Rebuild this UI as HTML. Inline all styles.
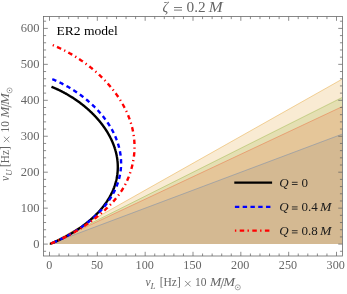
<!DOCTYPE html>
<html><head><meta charset="utf-8"><title>plot</title>
<style>html,body{margin:0;padding:0;background:#fff;}body{width:347px;height:294px;position:relative;overflow:hidden;font-family:"Liberation Serif",serif;}</style>
</head><body>
<svg width="347" height="294" viewBox="0 0 347 294" style="position:absolute;left:0;top:0;will-change:transform;opacity:0.999">
<rect width="347" height="294" fill="#fff"/>
<defs><clipPath id="c"><rect x="43.60" y="16.60" width="298.85" height="239.40"/></clipPath></defs>
<g clip-path="url(#c)">
<polygon points="49.50,244.10 342.25,134.09 342.25,244.10" fill="rgb(94,129,181)" fill-opacity="0.2"/>
<polygon points="49.50,244.10 342.25,79.09 342.25,244.10" fill="rgb(225,156,36)" fill-opacity="0.2"/>
<polygon points="49.50,244.10 342.25,97.42 342.25,244.10" fill="rgb(143,176,50)" fill-opacity="0.2"/>
<polygon points="49.50,244.10 342.25,106.59 342.25,244.10" fill="rgb(235,98,53)" fill-opacity="0.2"/>
<line x1="49.50" y1="244.10" x2="342.25" y2="134.09" stroke="rgb(94,129,181)" stroke-width="0.7" stroke-opacity="0.6"/>
<line x1="49.50" y1="244.10" x2="342.25" y2="79.09" stroke="rgb(225,156,36)" stroke-width="0.7" stroke-opacity="0.6"/>
<line x1="49.50" y1="244.10" x2="342.25" y2="97.42" stroke="rgb(143,176,50)" stroke-width="0.7" stroke-opacity="0.6"/>
<line x1="49.50" y1="244.10" x2="342.25" y2="106.59" stroke="rgb(235,98,53)" stroke-width="0.7" stroke-opacity="0.6"/>
<path d="M51.44 86.77 L51.83 86.93 L52.22 87.09 L52.62 87.25 L53.00 87.40 L53.40 87.57 L53.79 87.74 L54.20 87.91 L54.58 88.07 L54.97 88.24 L55.38 88.42 L55.76 88.59 L56.15 88.76 L56.55 88.94 L56.96 89.13 L57.33 89.30 L57.71 89.47 L58.09 89.65 L58.49 89.84 L58.89 90.03 L59.30 90.23 L59.72 90.43 L60.09 90.61 L60.46 90.79 L60.84 90.98 L61.23 91.17 L61.62 91.37 L62.01 91.57 L62.42 91.78 L62.83 91.99 L63.24 92.21 L63.66 92.43 L64.02 92.62 L64.37 92.82 L64.74 93.01 L65.10 93.21 L65.47 93.42 L65.85 93.62 L66.23 93.84 L66.61 94.05 L66.99 94.27 L67.38 94.49 L67.78 94.72 L68.17 94.95 L68.57 95.19 L68.97 95.42 L69.38 95.67 L69.79 95.91 L70.20 96.17 L70.62 96.42 L71.04 96.68 L71.46 96.94 L71.80 97.16 L72.15 97.38 L72.49 97.60 L72.84 97.82 L73.19 98.04 L73.54 98.27 L73.89 98.50 L74.24 98.74 L74.60 98.97 L74.95 99.21 L75.31 99.45 L75.67 99.70 L76.04 99.95 L76.40 100.20 L76.76 100.45 L77.13 100.71 L77.50 100.97 L77.87 101.23 L78.24 101.50 L78.61 101.77 L78.98 102.04 L79.36 102.32 L79.73 102.59 L80.11 102.88 L80.49 103.16 L80.87 103.45 L81.25 103.74 L81.63 104.03 L82.01 104.33 L82.39 104.63 L82.78 104.93 L83.16 105.24 L83.55 105.55 L83.93 105.86 L84.32 106.17 L84.71 106.49 L85.09 106.81 L85.48 107.14 L85.87 107.47 L86.26 107.80 L86.65 108.13 L87.03 108.47 L87.42 108.81 L87.81 109.15 L88.20 109.50 L88.59 109.85 L88.98 110.20 L89.37 110.56 L89.76 110.92 L90.15 111.28 L90.44 111.55 L90.73 111.83 L91.02 112.11 L91.31 112.39 L91.61 112.67 L91.90 112.95 L92.19 113.24 L92.48 113.52 L92.76 113.81 L93.05 114.10 L93.34 114.39 L93.63 114.68 L93.92 114.98 L94.20 115.27 L94.49 115.57 L94.78 115.87 L95.06 116.17 L95.35 116.48 L95.63 116.78 L95.92 117.09 L96.20 117.40 L96.48 117.71 L96.76 118.02 L97.04 118.33 L97.32 118.65 L97.60 118.96 L97.88 119.28 L98.16 119.60 L98.43 119.92 L98.71 120.25 L98.98 120.57 L99.26 120.90 L99.53 121.23 L99.80 121.56 L100.07 121.89 L100.34 122.22 L100.61 122.55 L100.87 122.89 L101.14 123.23 L101.40 123.56 L101.67 123.90 L101.93 124.25 L102.19 124.59 L102.45 124.93 L102.71 125.28 L102.96 125.63 L103.22 125.98 L103.47 126.33 L103.73 126.68 L103.98 127.03 L104.23 127.39 L104.47 127.74 L104.72 128.10 L104.96 128.46 L105.21 128.82 L105.45 129.18 L105.69 129.54 L105.93 129.91 L106.16 130.27 L106.40 130.64 L106.63 131.00 L106.86 131.37 L107.09 131.74 L107.31 132.11 L107.54 132.49 L107.76 132.86 L107.98 133.24 L108.20 133.61 L108.42 133.99 L108.64 134.37 L108.85 134.75 L109.06 135.13 L109.27 135.51 L109.48 135.89 L109.68 136.27 L109.89 136.66 L110.09 137.04 L110.29 137.43 L110.48 137.82 L110.68 138.20 L110.87 138.59 L111.06 138.98 L111.24 139.37 L111.43 139.77 L111.61 140.16 L111.79 140.55 L111.97 140.95 L112.15 141.34 L112.32 141.74 L112.49 142.13 L112.66 142.53 L112.82 142.93 L112.99 143.33 L113.15 143.72 L113.31 144.12 L113.46 144.52 L113.61 144.93 L113.76 145.33 L113.91 145.73 L114.06 146.13 L114.20 146.54 L114.34 146.94 L114.48 147.34 L114.61 147.75 L114.75 148.15 L114.87 148.56 L115.00 148.96 L115.13 149.37 L115.25 149.78 L115.37 150.18 L115.48 150.59 L115.60 151.00 L115.71 151.41 L115.81 151.81 L115.92 152.22 L116.02 152.63 L116.12 153.04 L116.22 153.45 L116.31 153.86 L116.40 154.27 L116.49 154.68 L116.57 155.08 L116.66 155.49 L116.74 155.90 L116.81 156.31 L116.89 156.72 L116.96 157.13 L117.03 157.54 L117.09 157.95 L117.15 158.36 L117.21 158.77 L117.27 159.18 L117.32 159.59 L117.38 159.99 L117.42 160.40 L117.47 160.81 L117.51 161.22 L117.55 161.63 L117.59 162.03 L117.62 162.44 L117.65 162.85 L117.68 163.26 L117.71 163.66 L117.73 164.07 L117.75 164.47 L117.77 164.88 L117.78 165.28 L117.79 165.69 L117.80 166.09 L117.81 166.49 L117.81 166.90 L117.81 167.30 L117.81 167.70 L117.80 168.10 L117.79 168.50 L117.78 168.90 L117.76 169.44 L117.74 169.97 L117.71 170.50 L117.67 171.03 L117.64 171.55 L117.59 172.08 L117.54 172.60 L117.49 173.13 L117.43 173.65 L117.37 174.17 L117.31 174.69 L117.23 175.21 L117.16 175.73 L117.08 176.24 L116.99 176.75 L116.90 177.26 L116.81 177.77 L116.71 178.28 L116.61 178.79 L116.50 179.29 L116.39 179.80 L116.27 180.30 L116.16 180.80 L116.03 181.29 L115.90 181.79 L115.77 182.28 L115.64 182.77 L115.50 183.26 L115.35 183.75 L115.21 184.23 L115.05 184.71 L114.90 185.20 L114.74 185.67 L114.58 186.15 L114.41 186.62 L114.24 187.10 L114.07 187.57 L113.89 188.03 L113.71 188.50 L113.53 188.96 L113.35 189.42 L113.16 189.88 L112.96 190.33 L112.77 190.79 L112.57 191.24 L112.37 191.69 L112.16 192.13 L111.95 192.57 L111.74 193.02 L111.53 193.45 L111.31 193.89 L111.09 194.32 L110.87 194.75 L110.65 195.18 L110.42 195.61 L110.19 196.03 L109.96 196.45 L109.73 196.87 L109.49 197.28 L109.26 197.70 L109.02 198.11 L108.77 198.52 L108.53 198.92 L108.28 199.32 L108.03 199.72 L107.78 200.12 L107.53 200.51 L107.28 200.91 L107.02 201.29 L106.76 201.68 L106.51 202.07 L106.25 202.45 L105.98 202.83 L105.72 203.20 L105.46 203.57 L105.19 203.94 L104.92 204.31 L104.65 204.68 L104.38 205.04 L104.11 205.40 L103.84 205.76 L103.57 206.11 L103.29 206.46 L103.02 206.81 L102.74 207.16 L102.46 207.50 L102.19 207.85 L101.91 208.18 L101.63 208.52 L101.35 208.85 L101.07 209.18 L100.79 209.51 L100.51 209.84 L100.22 210.16 L99.94 210.48 L99.66 210.80 L99.38 211.12 L99.09 211.43 L98.81 211.74 L98.53 212.05 L98.24 212.35 L97.96 212.66 L97.67 212.96 L97.39 213.25 L97.10 213.55 L96.82 213.84 L96.53 214.13 L96.25 214.42 L95.97 214.70 L95.68 214.99 L95.33 215.34 L94.97 215.68 L94.62 216.03 L94.26 216.36 L93.91 216.70 L93.56 217.03 L93.21 217.36 L92.86 217.68 L92.51 218.00 L92.16 218.32 L91.81 218.63 L91.46 218.94 L91.11 219.25 L90.77 219.55 L90.42 219.85 L90.08 220.15 L89.74 220.44 L89.40 220.73 L89.06 221.02 L88.72 221.30 L88.38 221.58 L88.04 221.86 L87.71 222.13 L87.38 222.40 L87.05 222.66 L86.72 222.93 L86.39 223.19 L86.06 223.45 L85.74 223.70 L85.41 223.95 L85.09 224.20 L84.77 224.44 L84.39 224.73 L84.01 225.02 L83.63 225.30 L83.26 225.58 L82.89 225.85 L82.52 226.12 L82.15 226.39 L81.79 226.65 L81.43 226.91 L81.07 227.16 L80.71 227.41 L80.36 227.66 L80.01 227.90 L79.67 228.14 L79.32 228.38 L78.98 228.61 L78.64 228.84 L78.31 229.06 L77.92 229.32 L77.54 229.58 L77.16 229.83 L76.79 230.07 L76.42 230.31 L76.05 230.55 L75.69 230.78 L75.33 231.01 L74.97 231.23 L74.62 231.45 L74.27 231.67 L73.93 231.88 L73.55 232.12 L73.16 232.35 L72.79 232.58 L72.42 232.81 L72.05 233.03 L71.69 233.24 L71.34 233.45 L70.98 233.66 L70.64 233.86 L70.26 234.08 L69.88 234.30 L69.51 234.51 L69.15 234.72 L68.79 234.92 L68.44 235.12 L68.05 235.34 L67.68 235.55 L67.31 235.75 L66.95 235.95 L66.59 236.14 L66.21 236.35 L65.83 236.55 L65.47 236.75 L65.11 236.94 L64.73 237.14 L64.35 237.33 L63.99 237.52 L63.61 237.72 L63.23 237.91 L62.87 238.10 L62.49 238.29 L62.12 238.48 L61.76 238.66 L61.39 238.84 L61.02 239.02 L60.65 239.21 L60.29 239.38 L59.92 239.56 L59.54 239.74 L59.18 239.92 L58.81 240.09 L58.44 240.27 L58.06 240.44 L57.69 240.62 L57.32 240.79 L56.95 240.96 L56.58 241.12 L56.21 241.29 L55.83 241.46 L55.47 241.62 L55.09 241.79 L54.72 241.95 L54.35 242.12 L53.98 242.27 L53.61 242.43 L53.24 242.59 L52.87 242.75 L52.50 242.90 L52.12 243.06 L51.75 243.21 L51.38 243.36 L51.01 243.51 L50.64 243.66 L50.27 243.80 L50.09 243.87" fill="none" stroke="#000" stroke-width="2.4"/>
<path d="M52.30 79.18 L52.68 79.33 L53.07 79.49 L53.46 79.65 L53.86 79.82 L54.24 79.98 L54.64 80.15 L55.05 80.33 L55.42 80.49 L55.82 80.66 L56.22 80.84 L56.63 81.03 L57.01 81.19 L57.39 81.37 L57.78 81.55 L58.18 81.73 L58.59 81.93 L59.01 82.12 L59.37 82.30 L59.75 82.48 L60.13 82.66 L60.51 82.85 L60.91 83.04 L61.30 83.24 L61.71 83.44 L62.12 83.65 L62.54 83.87 L62.97 84.08 L63.32 84.27 L63.69 84.46 L64.05 84.65 L64.43 84.85 L64.80 85.05 L65.18 85.26 L65.57 85.47 L65.95 85.68 L66.35 85.89 L66.74 86.12 L67.14 86.34 L67.55 86.57 L67.96 86.80 L68.37 87.04 L68.78 87.28 L69.20 87.53 L69.63 87.78 L70.05 88.03 L70.40 88.24 L70.75 88.45 L71.09 88.66 L71.45 88.87 L71.80 89.09 L72.15 89.31 L72.51 89.53 L72.87 89.76 L73.23 89.99 L73.60 90.22 L73.96 90.46 L74.33 90.70 L74.70 90.94 L75.07 91.18 L75.45 91.43 L75.82 91.68 L76.20 91.93 L76.58 92.19 L76.96 92.45 L77.34 92.71 L77.73 92.98 L78.11 93.25 L78.50 93.52 L78.89 93.80 L79.28 94.08 L79.67 94.36 L80.06 94.64 L80.46 94.93 L80.86 95.22 L81.25 95.52 L81.65 95.82 L82.05 96.12 L82.45 96.42 L82.85 96.73 L83.25 97.04 L83.66 97.36 L84.06 97.67 L84.47 98.00 L84.87 98.32 L85.28 98.65 L85.69 98.98 L86.10 99.31 L86.51 99.65 L86.92 99.99 L87.22 100.25 L87.53 100.51 L87.84 100.77 L88.15 101.04 L88.45 101.30 L88.76 101.57 L89.07 101.84 L89.38 102.11 L89.69 102.39 L90.00 102.66 L90.31 102.94 L90.61 103.22 L90.92 103.50 L91.23 103.78 L91.54 104.06 L91.85 104.35 L92.16 104.64 L92.46 104.93 L92.77 105.22 L93.08 105.52 L93.39 105.81 L93.69 106.11 L94.00 106.41 L94.31 106.71 L94.61 107.01 L94.92 107.32 L95.22 107.63 L95.53 107.94 L95.83 108.25 L96.14 108.56 L96.44 108.87 L96.74 109.19 L97.04 109.51 L97.34 109.83 L97.65 110.15 L97.95 110.47 L98.24 110.80 L98.54 111.13 L98.84 111.45 L99.14 111.78 L99.43 112.12 L99.73 112.45 L100.02 112.79 L100.32 113.12 L100.61 113.46 L100.90 113.81 L101.19 114.15 L101.48 114.49 L101.77 114.84 L102.06 115.19 L102.34 115.54 L102.63 115.89 L102.91 116.24 L103.19 116.59 L103.48 116.95 L103.76 117.31 L104.03 117.67 L104.31 118.03 L104.59 118.39 L104.86 118.76 L105.14 119.12 L105.41 119.49 L105.68 119.86 L105.95 120.23 L106.21 120.60 L106.48 120.97 L106.74 121.35 L107.01 121.72 L107.27 122.10 L107.53 122.48 L107.78 122.86 L108.04 123.24 L108.29 123.63 L108.54 124.01 L108.79 124.40 L109.04 124.79 L109.29 125.17 L109.53 125.56 L109.78 125.96 L110.02 126.35 L110.25 126.74 L110.49 127.14 L110.73 127.53 L110.96 127.93 L111.19 128.33 L111.42 128.73 L111.64 129.13 L111.87 129.53 L112.09 129.94 L112.31 130.34 L112.52 130.75 L112.74 131.16 L112.95 131.56 L113.16 131.97 L113.37 132.38 L113.58 132.79 L113.78 133.20 L113.98 133.62 L114.18 134.03 L114.37 134.45 L114.57 134.86 L114.76 135.28 L114.95 135.69 L115.13 136.11 L115.31 136.53 L115.50 136.95 L115.67 137.37 L115.85 137.79 L116.02 138.22 L116.19 138.64 L116.36 139.06 L116.52 139.49 L116.69 139.91 L116.84 140.34 L117.00 140.76 L117.15 141.19 L117.31 141.61 L117.45 142.04 L117.60 142.47 L117.74 142.90 L117.88 143.33 L118.02 143.76 L118.15 144.19 L118.28 144.62 L118.41 145.05 L118.54 145.48 L118.66 145.91 L118.78 146.34 L118.89 146.77 L119.01 147.21 L119.12 147.64 L119.23 148.07 L119.33 148.50 L119.43 148.94 L119.53 149.37 L119.63 149.80 L119.72 150.24 L119.81 150.67 L119.90 151.10 L119.98 151.54 L120.06 151.97 L120.14 152.40 L120.21 152.84 L120.28 153.27 L120.35 153.71 L120.42 154.14 L120.48 154.57 L120.54 155.00 L120.60 155.44 L120.65 155.87 L120.70 156.30 L120.75 156.74 L120.79 157.17 L120.83 157.60 L120.87 158.03 L120.90 158.46 L120.94 158.89 L120.96 159.32 L120.99 159.75 L121.01 160.18 L121.03 160.61 L121.05 161.04 L121.06 161.47 L121.07 161.90 L121.08 162.33 L121.09 162.75 L121.09 163.18 L121.09 163.61 L121.08 164.03 L121.08 164.46 L121.07 164.88 L121.05 165.30 L121.04 165.73 L121.02 166.15 L121.00 166.57 L120.97 166.99 L120.95 167.41 L120.91 167.83 L120.88 168.25 L120.85 168.67 L120.81 169.08 L120.76 169.50 L120.72 169.91 L120.67 170.33 L120.62 170.74 L120.57 171.15 L120.51 171.57 L120.45 171.98 L120.39 172.39 L120.33 172.80 L120.26 173.20 L120.19 173.61 L120.12 174.02 L120.05 174.42 L119.97 174.83 L119.89 175.23 L119.81 175.63 L119.72 176.03 L119.63 176.43 L119.54 176.83 L119.45 177.23 L119.36 177.62 L119.26 178.02 L119.16 178.41 L119.06 178.80 L118.95 179.19 L118.84 179.58 L118.74 179.97 L118.62 180.36 L118.51 180.75 L118.39 181.13 L118.27 181.52 L118.15 181.90 L118.03 182.28 L117.90 182.66 L117.73 183.17 L117.56 183.67 L117.38 184.17 L117.20 184.67 L117.01 185.16 L116.82 185.65 L116.63 186.14 L116.43 186.63 L116.23 187.12 L116.03 187.60 L115.82 188.08 L115.61 188.56 L115.40 189.03 L115.18 189.51 L114.96 189.97 L114.74 190.44 L114.52 190.91 L114.29 191.37 L114.06 191.83 L113.82 192.28 L113.59 192.74 L113.35 193.19 L113.11 193.64 L112.86 194.08 L112.61 194.52 L112.37 194.96 L112.11 195.40 L111.86 195.84 L111.60 196.27 L111.35 196.70 L111.09 197.12 L110.82 197.54 L110.56 197.96 L110.29 198.38 L110.02 198.80 L109.75 199.21 L109.48 199.62 L109.21 200.02 L108.93 200.43 L108.65 200.83 L108.38 201.23 L108.10 201.62 L107.81 202.01 L107.53 202.40 L107.25 202.79 L106.96 203.17 L106.68 203.55 L106.39 203.93 L106.10 204.30 L105.81 204.68 L105.52 205.05 L105.23 205.41 L104.93 205.78 L104.64 206.14 L104.35 206.49 L104.05 206.85 L103.76 207.20 L103.46 207.55 L103.16 207.90 L102.86 208.24 L102.57 208.58 L102.27 208.92 L101.97 209.26 L101.67 209.59 L101.37 209.92 L101.07 210.25 L100.77 210.57 L100.47 210.90 L100.17 211.22 L99.87 211.53 L99.57 211.85 L99.27 212.16 L98.97 212.47 L98.67 212.77 L98.37 213.08 L98.07 213.38 L97.77 213.68 L97.47 213.97 L97.17 214.26 L96.87 214.56 L96.57 214.84 L96.27 215.13 L95.97 215.41 L95.67 215.69 L95.38 215.97 L95.08 216.25 L94.78 216.52 L94.49 216.79 L94.12 217.12 L93.75 217.45 L93.38 217.78 L93.02 218.11 L92.65 218.43 L92.29 218.74 L91.93 219.05 L91.56 219.36 L91.20 219.67 L90.85 219.97 L90.49 220.27 L90.13 220.56 L89.78 220.85 L89.43 221.14 L89.07 221.42 L88.72 221.71 L88.38 221.98 L88.03 222.26 L87.69 222.53 L87.34 222.80 L87.00 223.06 L86.66 223.32 L86.33 223.58 L85.99 223.83 L85.66 224.09 L85.32 224.33 L84.99 224.58 L84.67 224.82 L84.34 225.06 L84.02 225.30 L83.63 225.58 L83.25 225.86 L82.87 226.13 L82.49 226.40 L82.11 226.66 L81.74 226.92 L81.38 227.18 L81.01 227.43 L80.65 227.68 L80.29 227.92 L79.93 228.16 L79.58 228.40 L79.23 228.63 L78.88 228.86 L78.54 229.09 L78.20 229.31 L77.86 229.53 L77.47 229.79 L77.09 230.03 L76.71 230.28 L76.33 230.52 L75.96 230.75 L75.59 230.98 L75.23 231.21 L74.87 231.43 L74.52 231.65 L74.16 231.86 L73.82 232.07 L73.43 232.31 L73.04 232.54 L72.66 232.77 L72.29 232.99 L71.92 233.21 L71.56 233.42 L71.20 233.63 L70.85 233.83 L70.50 234.03 L70.11 234.25 L69.73 234.46 L69.36 234.67 L69.00 234.88 L68.64 235.08 L68.28 235.27 L67.90 235.49 L67.52 235.69 L67.15 235.89 L66.79 236.09 L66.43 236.28 L66.05 236.48 L65.68 236.68 L65.31 236.88 L64.95 237.06 L64.57 237.26 L64.20 237.45 L63.84 237.64 L63.45 237.84 L63.08 238.02 L62.72 238.21 L62.34 238.40 L61.97 238.58 L61.59 238.77 L61.22 238.95 L60.84 239.14 L60.47 239.32 L60.09 239.50 L59.72 239.68 L59.35 239.85 L58.97 240.03 L58.61 240.20 L58.25 240.37 L57.88 240.54 L57.51 240.71 L57.15 240.88 L56.77 241.05 L56.40 241.22 L56.02 241.39 L55.66 241.55 L55.29 241.71 L54.91 241.88 L54.54 242.04 L54.18 242.20 L53.80 242.35 L53.43 242.51 L53.06 242.67 L52.69 242.83 L52.32 242.98 L51.95 243.13 L51.58 243.28 L51.20 243.43 L50.83 243.58 L50.46 243.73 L50.09 243.87" fill="none" stroke="#0000ff" stroke-width="2.4" stroke-dasharray="4.35 3.55"/>
<path d="M52.69 45.09 L53.10 45.26 L53.49 45.42 L53.90 45.59 L54.28 45.75 L54.67 45.91 L55.08 46.09 L55.46 46.25 L55.84 46.41 L56.24 46.58 L56.64 46.76 L57.06 46.95 L57.43 47.11 L57.81 47.28 L58.20 47.45 L58.59 47.63 L58.99 47.82 L59.41 48.01 L59.83 48.21 L60.26 48.41 L60.62 48.58 L60.99 48.76 L61.36 48.94 L61.75 49.12 L62.13 49.31 L62.53 49.50 L62.92 49.70 L63.33 49.90 L63.74 50.11 L64.15 50.32 L64.57 50.53 L65.00 50.75 L65.43 50.97 L65.87 51.20 L66.31 51.44 L66.67 51.63 L67.03 51.82 L67.40 52.02 L67.77 52.21 L68.14 52.42 L68.51 52.62 L68.89 52.83 L69.27 53.04 L69.66 53.26 L70.05 53.48 L70.44 53.70 L70.83 53.92 L71.23 54.15 L71.63 54.38 L72.04 54.62 L72.44 54.86 L72.85 55.10 L73.27 55.35 L73.68 55.59 L74.10 55.85 L74.52 56.10 L74.95 56.36 L75.38 56.63 L75.81 56.89 L76.24 57.17 L76.68 57.44 L77.11 57.72 L77.56 58.00 L78.00 58.29 L78.45 58.58 L78.78 58.80 L79.12 59.02 L79.46 59.24 L79.80 59.47 L80.14 59.70 L80.49 59.93 L80.83 60.16 L81.18 60.40 L81.52 60.63 L81.87 60.87 L82.22 61.12 L82.57 61.36 L82.92 61.61 L83.28 61.86 L83.63 62.11 L83.99 62.36 L84.34 62.61 L84.70 62.87 L85.06 63.13 L85.42 63.40 L85.78 63.66 L86.14 63.93 L86.50 64.20 L86.86 64.47 L87.23 64.74 L87.59 65.02 L87.96 65.30 L88.33 65.58 L88.69 65.86 L89.06 66.15 L89.43 66.44 L89.80 66.73 L90.17 67.02 L90.54 67.32 L90.91 67.62 L91.28 67.92 L91.66 68.22 L92.03 68.52 L92.40 68.83 L92.78 69.14 L93.15 69.45 L93.52 69.77 L93.90 70.09 L94.28 70.41 L94.65 70.73 L95.03 71.05 L95.40 71.38 L95.78 71.71 L96.16 72.04 L96.53 72.38 L96.91 72.71 L97.29 73.05 L97.66 73.39 L98.04 73.74 L98.42 74.08 L98.80 74.43 L99.17 74.78 L99.55 75.14 L99.93 75.49 L100.30 75.85 L100.68 76.21 L101.05 76.58 L101.43 76.94 L101.80 77.31 L102.18 77.68 L102.55 78.06 L102.93 78.43 L103.30 78.81 L103.67 79.19 L104.05 79.57 L104.42 79.96 L104.79 80.34 L105.16 80.73 L105.53 81.13 L105.90 81.52 L106.27 81.92 L106.64 82.32 L107.00 82.72 L107.37 83.12 L107.73 83.53 L108.10 83.94 L108.46 84.35 L108.82 84.76 L109.18 85.18 L109.54 85.59 L109.90 86.01 L110.26 86.44 L110.61 86.86 L110.97 87.29 L111.32 87.71 L111.67 88.15 L112.02 88.58 L112.37 89.01 L112.72 89.45 L113.07 89.89 L113.41 90.33 L113.76 90.78 L114.10 91.22 L114.44 91.67 L114.78 92.12 L115.11 92.57 L115.45 93.03 L115.78 93.48 L116.11 93.94 L116.44 94.40 L116.77 94.86 L117.09 95.33 L117.41 95.79 L117.74 96.26 L118.05 96.73 L118.37 97.20 L118.69 97.67 L119.00 98.15 L119.31 98.63 L119.62 99.10 L119.92 99.58 L120.23 100.07 L120.53 100.55 L120.83 101.04 L121.12 101.52 L121.42 102.01 L121.71 102.50 L122.00 103.00 L122.28 103.49 L122.56 103.99 L122.85 104.48 L123.12 104.98 L123.40 105.48 L123.67 105.98 L123.94 106.49 L124.21 106.99 L124.47 107.50 L124.73 108.00 L124.99 108.51 L125.25 109.02 L125.50 109.53 L125.75 110.05 L125.99 110.56 L126.24 111.07 L126.48 111.59 L126.72 112.11 L126.95 112.63 L127.18 113.15 L127.41 113.67 L127.63 114.19 L127.85 114.71 L128.07 115.23 L128.29 115.76 L128.50 116.28 L128.70 116.81 L128.91 117.34 L129.11 117.87 L129.31 118.40 L129.50 118.93 L129.69 119.46 L129.88 119.99 L130.06 120.52 L130.24 121.05 L130.42 121.59 L130.59 122.12 L130.76 122.66 L130.93 123.19 L131.09 123.73 L131.25 124.26 L131.41 124.80 L131.56 125.34 L131.71 125.88 L131.85 126.41 L131.99 126.95 L132.13 127.49 L132.26 128.03 L132.39 128.57 L132.51 129.11 L132.64 129.65 L132.75 130.19 L132.87 130.73 L132.98 131.27 L133.08 131.81 L133.19 132.35 L133.29 132.89 L133.38 133.43 L133.47 133.98 L133.56 134.52 L133.64 135.06 L133.72 135.60 L133.80 136.14 L133.87 136.68 L133.94 137.22 L134.01 137.76 L134.07 138.30 L134.12 138.84 L134.18 139.37 L134.23 139.91 L134.27 140.45 L134.31 140.99 L134.35 141.53 L134.38 142.06 L134.41 142.60 L134.44 143.13 L134.46 143.67 L134.48 144.20 L134.50 144.74 L134.51 145.27 L134.51 145.80 L134.52 146.34 L134.53 146.87 L134.52 147.40 L134.52 147.93 L134.51 148.46 L134.49 148.99 L134.48 149.51 L134.45 150.04 L134.43 150.57 L134.40 151.09 L134.37 151.61 L134.33 152.14 L134.30 152.66 L134.25 153.18 L134.21 153.70 L134.16 154.22 L134.11 154.74 L134.05 155.25 L133.99 155.77 L133.93 156.28 L133.87 156.80 L133.80 157.31 L133.73 157.82 L133.65 158.33 L133.58 158.84 L133.50 159.34 L133.41 159.85 L133.33 160.35 L133.24 160.86 L133.14 161.36 L133.05 161.86 L132.95 162.36 L132.85 162.86 L132.74 163.35 L132.64 163.85 L132.53 164.34 L132.42 164.83 L132.30 165.32 L132.18 165.81 L132.06 166.30 L131.94 166.78 L131.82 167.26 L131.69 167.75 L131.56 168.23 L131.43 168.71 L131.29 169.18 L131.15 169.66 L131.01 170.13 L130.87 170.60 L130.73 171.08 L130.58 171.54 L130.43 172.01 L130.28 172.48 L130.12 172.94 L129.97 173.40 L129.81 173.86 L129.65 174.32 L129.48 174.78 L129.32 175.23 L129.15 175.68 L128.98 176.13 L128.80 176.58 L128.63 177.03 L128.45 177.47 L128.27 177.92 L128.09 178.36 L127.91 178.80 L127.72 179.24 L127.53 179.67 L127.34 180.11 L127.15 180.54 L126.95 180.97 L126.75 181.39 L126.55 181.82 L126.35 182.24 L126.15 182.67 L125.94 183.09 L125.73 183.50 L125.52 183.92 L125.31 184.33 L125.10 184.75 L124.88 185.16 L124.66 185.56 L124.44 185.97 L124.21 186.37 L123.99 186.77 L123.76 187.17 L123.53 187.57 L123.30 187.97 L123.07 188.36 L122.83 188.75 L122.59 189.14 L122.35 189.53 L122.11 189.92 L121.87 190.30 L121.62 190.68 L121.38 191.06 L121.13 191.44 L120.88 191.81 L120.63 192.18 L120.37 192.56 L120.12 192.92 L119.86 193.29 L119.60 193.66 L119.34 194.02 L119.08 194.38 L118.82 194.74 L118.55 195.09 L118.29 195.45 L118.02 195.80 L117.75 196.15 L117.48 196.50 L117.21 196.85 L116.94 197.19 L116.67 197.53 L116.40 197.87 L116.12 198.21 L115.84 198.55 L115.57 198.88 L115.29 199.21 L115.01 199.54 L114.73 199.87 L114.45 200.20 L114.17 200.52 L113.89 200.84 L113.61 201.16 L113.33 201.48 L113.04 201.80 L112.76 202.11 L112.48 202.42 L112.19 202.73 L111.91 203.04 L111.62 203.35 L111.34 203.65 L111.05 203.95 L110.77 204.25 L110.48 204.55 L110.19 204.85 L109.91 205.14 L109.62 205.43 L109.34 205.72 L109.05 206.01 L108.76 206.30 L108.48 206.58 L108.19 206.87 L107.90 207.15 L107.52 207.52 L107.14 207.89 L106.76 208.25 L106.38 208.61 L106.00 208.97 L105.62 209.33 L105.24 209.68 L104.87 210.03 L104.49 210.37 L104.11 210.71 L103.74 211.05 L103.36 211.39 L102.99 211.72 L102.62 212.05 L102.25 212.37 L101.87 212.70 L101.51 213.02 L101.14 213.33 L100.77 213.65 L100.40 213.96 L100.04 214.27 L99.68 214.57 L99.31 214.88 L98.95 215.17 L98.59 215.47 L98.23 215.76 L97.88 216.05 L97.52 216.34 L97.17 216.63 L96.82 216.91 L96.47 217.19 L96.12 217.46 L95.77 217.74 L95.42 218.01 L95.08 218.28 L94.74 218.54 L94.39 218.81 L94.05 219.07 L93.72 219.32 L93.38 219.58 L93.05 219.83 L92.71 220.08 L92.38 220.33 L92.05 220.57 L91.72 220.82 L91.40 221.06 L91.07 221.29 L90.67 221.59 L90.27 221.88 L89.87 222.16 L89.48 222.44 L89.09 222.72 L88.70 223.00 L88.31 223.27 L87.93 223.54 L87.55 223.80 L87.17 224.06 L86.79 224.32 L86.42 224.58 L86.05 224.83 L85.69 225.07 L85.32 225.32 L84.96 225.56 L84.61 225.80 L84.25 226.03 L83.90 226.27 L83.55 226.49 L83.20 226.72 L82.86 226.94 L82.52 227.16 L82.18 227.38 L81.78 227.64 L81.39 227.89 L80.99 228.14 L80.61 228.38 L80.22 228.62 L79.84 228.86 L79.46 229.09 L79.09 229.32 L78.72 229.55 L78.36 229.77 L78.00 229.99 L77.64 230.20 L77.29 230.42 L76.94 230.62 L76.60 230.83 L76.20 231.06 L75.81 231.29 L75.42 231.52 L75.04 231.74 L74.67 231.96 L74.29 232.17 L73.93 232.38 L73.57 232.59 L73.21 232.79 L72.86 232.99 L72.47 233.21 L72.08 233.43 L71.70 233.64 L71.32 233.85 L70.95 234.05 L70.59 234.25 L70.23 234.45 L69.87 234.64 L69.49 234.85 L69.10 235.05 L68.73 235.25 L68.36 235.44 L68.00 235.64 L67.61 235.84 L67.22 236.04 L66.85 236.24 L66.48 236.43 L66.12 236.61 L65.73 236.81 L65.35 237.00 L64.98 237.19 L64.62 237.37 L64.24 237.56 L63.86 237.75 L63.50 237.93 L63.12 238.12 L62.74 238.30 L62.38 238.47 L62.00 238.66 L61.64 238.83 L61.26 239.02 L60.89 239.19 L60.51 239.37 L60.14 239.54 L59.77 239.72 L59.39 239.90 L59.02 240.06 L58.65 240.23 L58.28 240.41 L57.90 240.58 L57.53 240.74 L57.16 240.91 L56.79 241.08 L56.41 241.24 L56.04 241.41 L55.67 241.57 L55.30 241.73 L54.93 241.89 L54.55 242.05 L54.18 242.21 L53.81 242.37 L53.43 242.53 L53.06 242.68 L52.69 242.83 L52.32 242.99 L51.94 243.14 L51.57 243.29 L51.20 243.44 L50.83 243.59 L50.45 243.73 L50.09 243.87" fill="none" stroke="#ff0000" stroke-width="2.4" stroke-dasharray="1.3 3.4 4.5 3.4"/>
</g>
<rect x="43.60" y="16.60" width="298.85" height="239.40" fill="none" stroke="#666" stroke-width="0.78"/>
<path d="M49.50 256.00 v-4.20 M49.50 16.60 v4.20 M59.07 256.00 v-2.50 M59.07 16.60 v2.50 M68.63 256.00 v-2.50 M68.63 16.60 v2.50 M78.20 256.00 v-2.50 M78.20 16.60 v2.50 M87.77 256.00 v-2.50 M87.77 16.60 v2.50 M97.34 256.00 v-4.20 M97.34 16.60 v4.20 M106.90 256.00 v-2.50 M106.90 16.60 v2.50 M116.47 256.00 v-2.50 M116.47 16.60 v2.50 M126.04 256.00 v-2.50 M126.04 16.60 v2.50 M135.60 256.00 v-2.50 M135.60 16.60 v2.50 M145.17 256.00 v-4.20 M145.17 16.60 v4.20 M154.74 256.00 v-2.50 M154.74 16.60 v2.50 M164.30 256.00 v-2.50 M164.30 16.60 v2.50 M173.87 256.00 v-2.50 M173.87 16.60 v2.50 M183.44 256.00 v-2.50 M183.44 16.60 v2.50 M193.00 256.00 v-4.20 M193.00 16.60 v4.20 M202.57 256.00 v-2.50 M202.57 16.60 v2.50 M212.14 256.00 v-2.50 M212.14 16.60 v2.50 M221.71 256.00 v-2.50 M221.71 16.60 v2.50 M231.27 256.00 v-2.50 M231.27 16.60 v2.50 M240.84 256.00 v-4.20 M240.84 16.60 v4.20 M250.41 256.00 v-2.50 M250.41 16.60 v2.50 M259.97 256.00 v-2.50 M259.97 16.60 v2.50 M269.54 256.00 v-2.50 M269.54 16.60 v2.50 M279.11 256.00 v-2.50 M279.11 16.60 v2.50 M288.68 256.00 v-4.20 M288.68 16.60 v4.20 M298.24 256.00 v-2.50 M298.24 16.60 v2.50 M307.81 256.00 v-2.50 M307.81 16.60 v2.50 M317.38 256.00 v-2.50 M317.38 16.60 v2.50 M326.94 256.00 v-2.50 M326.94 16.60 v2.50 M336.51 256.00 v-4.20 M336.51 16.60 v4.20 M43.60 251.29 h2.50 M342.45 251.29 h-2.50 M43.60 244.10 h4.20 M342.45 244.10 h-4.20 M43.60 236.91 h2.50 M342.45 236.91 h-2.50 M43.60 229.72 h2.50 M342.45 229.72 h-2.50 M43.60 222.53 h2.50 M342.45 222.53 h-2.50 M43.60 215.34 h2.50 M342.45 215.34 h-2.50 M43.60 208.15 h4.20 M342.45 208.15 h-4.20 M43.60 200.96 h2.50 M342.45 200.96 h-2.50 M43.60 193.77 h2.50 M342.45 193.77 h-2.50 M43.60 186.58 h2.50 M342.45 186.58 h-2.50 M43.60 179.39 h2.50 M342.45 179.39 h-2.50 M43.60 172.20 h4.20 M342.45 172.20 h-4.20 M43.60 165.01 h2.50 M342.45 165.01 h-2.50 M43.60 157.82 h2.50 M342.45 157.82 h-2.50 M43.60 150.63 h2.50 M342.45 150.63 h-2.50 M43.60 143.44 h2.50 M342.45 143.44 h-2.50 M43.60 136.25 h4.20 M342.45 136.25 h-4.20 M43.60 129.06 h2.50 M342.45 129.06 h-2.50 M43.60 121.87 h2.50 M342.45 121.87 h-2.50 M43.60 114.68 h2.50 M342.45 114.68 h-2.50 M43.60 107.49 h2.50 M342.45 107.49 h-2.50 M43.60 100.30 h4.20 M342.45 100.30 h-4.20 M43.60 93.11 h2.50 M342.45 93.11 h-2.50 M43.60 85.92 h2.50 M342.45 85.92 h-2.50 M43.60 78.73 h2.50 M342.45 78.73 h-2.50 M43.60 71.54 h2.50 M342.45 71.54 h-2.50 M43.60 64.35 h4.20 M342.45 64.35 h-4.20 M43.60 57.16 h2.50 M342.45 57.16 h-2.50 M43.60 49.97 h2.50 M342.45 49.97 h-2.50 M43.60 42.78 h2.50 M342.45 42.78 h-2.50 M43.60 35.59 h2.50 M342.45 35.59 h-2.50 M43.60 28.40 h4.20 M342.45 28.40 h-4.20 M43.60 21.21 h2.50 M342.45 21.21 h-2.50" stroke="#666" stroke-width="0.75" fill="none"/>
<text transform="translate(49.20,268.8) scale(0.95,1)" x="0" y="0" font-family="Liberation Serif, serif" font-size="12.8" fill="#666666" text-anchor="middle">0</text>
<text transform="translate(96.95,268.8) scale(0.95,1)" x="0" y="0" font-family="Liberation Serif, serif" font-size="12.8" fill="#666666" text-anchor="middle">50</text>
<text transform="translate(144.70,268.8) scale(0.95,1)" x="0" y="0" font-family="Liberation Serif, serif" font-size="12.8" fill="#666666" text-anchor="middle">100</text>
<text transform="translate(192.45,268.8) scale(0.95,1)" x="0" y="0" font-family="Liberation Serif, serif" font-size="12.8" fill="#666666" text-anchor="middle">150</text>
<text transform="translate(240.21,268.8) scale(0.95,1)" x="0" y="0" font-family="Liberation Serif, serif" font-size="12.8" fill="#666666" text-anchor="middle">200</text>
<text transform="translate(287.96,268.8) scale(0.95,1)" x="0" y="0" font-family="Liberation Serif, serif" font-size="12.8" fill="#666666" text-anchor="middle">250</text>
<text transform="translate(335.71,268.8) scale(0.95,1)" x="0" y="0" font-family="Liberation Serif, serif" font-size="12.8" fill="#666666" text-anchor="middle">300</text>
<text x="39.4" y="247.70" font-family="Liberation Serif, serif" font-size="12.5" fill="#666666" text-anchor="end">0</text>
<text x="39.4" y="211.75" font-family="Liberation Serif, serif" font-size="12.5" fill="#666666" text-anchor="end">100</text>
<text x="39.4" y="175.80" font-family="Liberation Serif, serif" font-size="12.5" fill="#666666" text-anchor="end">200</text>
<text x="39.4" y="139.85" font-family="Liberation Serif, serif" font-size="12.5" fill="#666666" text-anchor="end">300</text>
<text x="39.4" y="103.90" font-family="Liberation Serif, serif" font-size="12.5" fill="#666666" text-anchor="end">400</text>
<text x="39.4" y="67.95" font-family="Liberation Serif, serif" font-size="12.5" fill="#666666" text-anchor="end">500</text>
<text x="39.4" y="32.00" font-family="Liberation Serif, serif" font-size="12.5" fill="#666666" text-anchor="end">600</text>
<g font-family="Liberation Serif, serif" fill="#666666">
<text x="162.6" y="11.5" font-size="14.3" font-style="italic">ζ</text>
<path d="M174 7.5 H182 M174 10.1 H182" stroke="#666666" stroke-width="0.85" fill="none"/>
<text transform="translate(186.6,11.5) scale(1.11,1)" font-size="13.8">0.2</text>
<text transform="translate(208.8,11.5) scale(1.17,1)" font-size="14.3" font-style="italic">M</text>
</g>
<text x="56.4" y="35.2" font-family="Liberation Serif, serif" font-size="13.1" fill="#000" textLength="61.5" lengthAdjust="spacingAndGlyphs">ER2 model</text>
<g transform="translate(145.4,286.1)"><g font-family="Liberation Serif, serif" font-size="11.5" fill="#666666"><text x="0.00" y="0" font-style="italic">ν</text><text x="5.20" y="2.6" font-style="italic" font-size="9">L</text><text x="14.25" y="0">[Hz]</text><path d="M39.65 -5.15 L45.15 0.35 M39.65 0.35 L45.15 -5.15" stroke="#666666" stroke-width="0.75" fill="none"/><text x="49.50" y="0">10</text><text transform="translate(64.50,0) scale(1.1,1)" x="0" y="0" font-style="italic" font-size="12.4">M</text><path d="M75.30 2.5 L78.50 -7.9" stroke="#666666" stroke-width="0.8" fill="none"/><text transform="translate(77.90,0) scale(1.14,1)" x="0" y="0" font-style="italic" font-size="12.4">M</text><circle cx="92.40" cy="1.25" r="2.55" fill="none" stroke="#666666" stroke-width="0.55"/><circle cx="92.40" cy="1.25" r="0.6" fill="#666666"/></g></g>
<g transform="translate(9.0,180.9) rotate(-90) scale(0.979,1)"><g font-family="Liberation Serif, serif" font-size="11.5" fill="#666666"><text x="0.00" y="0" font-style="italic">ν</text><text x="5.20" y="2.6" font-style="italic" font-size="9">U</text><text x="14.25" y="0">[Hz]</text><path d="M39.65 -5.15 L45.15 0.35 M39.65 0.35 L45.15 -5.15" stroke="#666666" stroke-width="0.75" fill="none"/><text x="49.50" y="0">10</text><text transform="translate(64.50,0) scale(1.1,1)" x="0" y="0" font-style="italic" font-size="12.4">M</text><path d="M75.30 2.5 L78.50 -7.9" stroke="#666666" stroke-width="0.8" fill="none"/><text transform="translate(77.90,0) scale(1.14,1)" x="0" y="0" font-style="italic" font-size="12.4">M</text><circle cx="92.40" cy="0.55" r="2.55" fill="none" stroke="#666666" stroke-width="0.55"/><circle cx="92.40" cy="0.55" r="0.6" fill="#666666"/></g></g>
<line x1="234.3" y1="182.7" x2="272.1" y2="182.7" stroke="#000" stroke-width="2.2"/>
<line x1="234.9" y1="206.8" x2="272" y2="206.8" stroke="#00f" stroke-width="2.2" stroke-dasharray="4.4 3.38"/>
<line x1="234.9" y1="230.7" x2="272" y2="230.7" stroke="#f00" stroke-width="2.2" stroke-dasharray="1.4 3.4 4.5 3.3"/>
<g font-family="Liberation Serif, serif" font-size="13" fill="#1a1a1a"><text x="279.3" y="186.8" font-style="italic">Q</text><path d="M291.9 182.30 H297.6 M291.9 184.50 H297.6" stroke="#1a1a1a" stroke-width="0.85" fill="none"/><text x="301.5" y="186.8">0</text></g>
<g font-family="Liberation Serif, serif" font-size="13" fill="#1a1a1a"><text x="279.3" y="211.4" font-style="italic">Q</text><path d="M291.9 206.90 H297.6 M291.9 209.10 H297.6" stroke="#1a1a1a" stroke-width="0.85" fill="none"/><text x="301.5" y="211.4">0.4</text><text transform="translate(319.9,211.4) scale(1.06,1)" font-style="italic">M</text></g>
<g font-family="Liberation Serif, serif" font-size="13" fill="#1a1a1a"><text x="279.3" y="235.2" font-style="italic">Q</text><path d="M291.9 230.70 H297.6 M291.9 232.90 H297.6" stroke="#1a1a1a" stroke-width="0.85" fill="none"/><text x="301.5" y="235.2">0.8</text><text transform="translate(319.9,235.2) scale(1.06,1)" font-style="italic">M</text></g>
</svg>
</body></html>
